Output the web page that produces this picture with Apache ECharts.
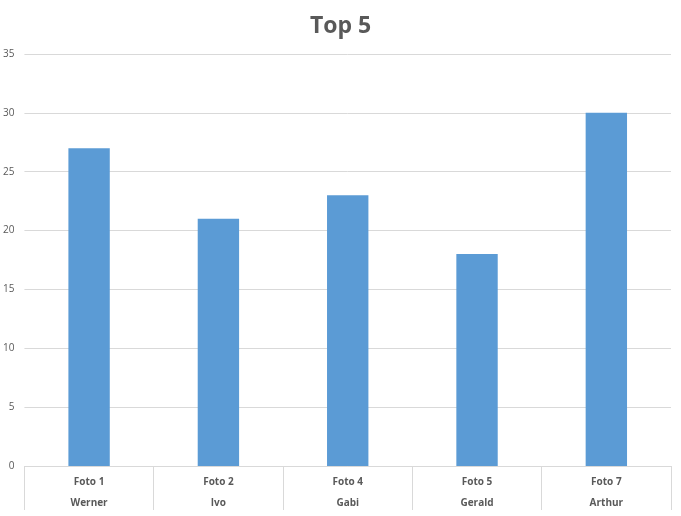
<!DOCTYPE html>
<html><head><meta charset="utf-8">
<script src="https://cdn.jsdelivr.net/npm/echarts@6/dist/echarts.min.js"></script>
<style>html,body{margin:0;padding:0;background:#fff}#c{width:681px;height:516px}</style>
</head><body><div id="c"></div>
<script>
const photos = ['Foto 1','Foto 2','Foto 4','Foto 5','Foto 7'];
const names = ['Werner','Ivo','Gabi','Gerald','Arthur'];
const values = [27,21,23,18,30];
const yTicks = {min:0,max:35,interval:5};
const chart = echarts.init(document.getElementById('c'));
const font = '"Open Sans", sans-serif';
chart.setOption({
  animation:false,
  title:{text:'Top 5',left:'center',top:10,textStyle:{fontFamily:font,fontSize:23,fontWeight:'bold',color:'#595959'}},
  grid:{left:24,right:10,top:54,bottom:50},
  xAxis:[{
    type:'category',data:photos,position:'bottom',
    axisLine:{show:true,lineStyle:{color:'#d9d9d9'}},
    axisTick:{show:true,length:44,interval:0,lineStyle:{color:'#d9d9d9'}},
    axisLabel:{interval:0,margin:11,fontFamily:font,fontSize:10,fontWeight:'bold',color:'#595959'}
  },{
    type:'category',data:names,position:'bottom',offset:21,
    axisLine:{show:false},axisTick:{show:false},
    axisLabel:{interval:0,margin:11,fontFamily:font,fontSize:10,fontWeight:'bold',color:'#595959'}
  }],
  yAxis:{type:'value',min:yTicks.min,max:yTicks.max,interval:yTicks.interval,
    axisLine:{show:false},axisTick:{show:false},
    axisLabel:{margin:10,fontFamily:font,fontSize:10,color:'#595959'},
    splitLine:{lineStyle:{color:'#d9d9d9'}}},
  series:[{type:'bar',data:values,barWidth:'32%',itemStyle:{color:'#5b9bd5'},xAxisIndex:0}]
});
</script></body></html>
